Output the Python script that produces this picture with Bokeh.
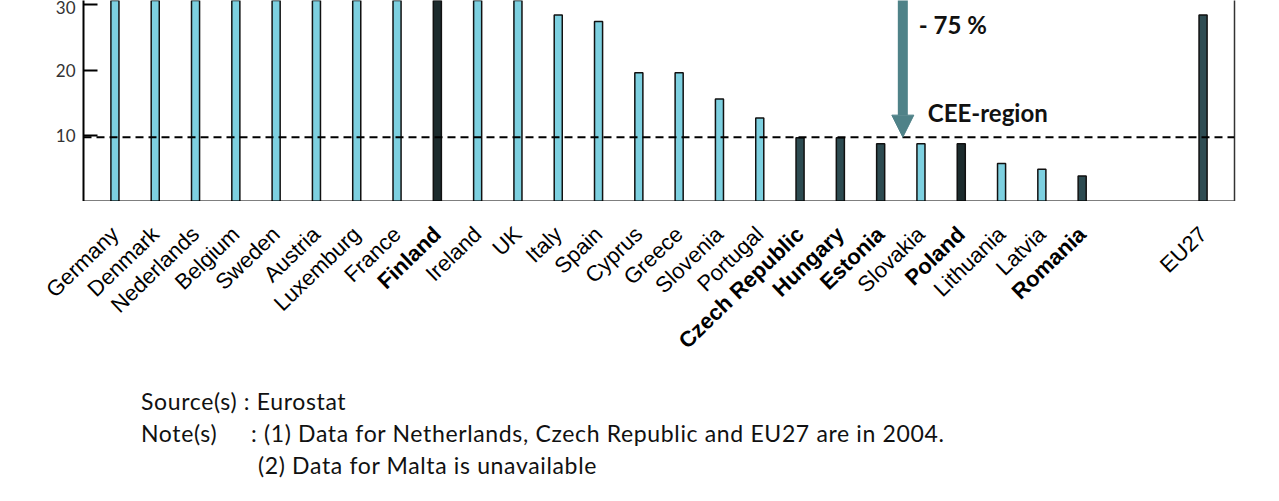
import numpy as np
from bokeh.plotting import figure
from bokeh.models import (ColumnDataSource, Range1d, FixedTicker, LinearAxis,
                          Span, Arrow, NormalHead, Label, Div)
from bokeh.layouts import column, row
from bokeh.transform import factor_cmap
from bokeh.core.properties import value
from bokeh.embed import file_html
from bokeh.resources import INLINE

# ---------------- data ----------------
countries = ["Germany", "Denmark", "Nederlands", "Belgium", "Sweden", "Austria",
             "Luxemburg", "France", "Finland", "Ireland", "UK", "Italy", "Spain",
             "Cyprus", "Greece", "Slovenia", "Portugal", "Czech Republic",
             "Hungary", "Estonia", "Slovakia", "Poland", "Lithuania", "Latvia",
             "Romania", "EU27"]
values = [58, 52, 48, 45, 43, 41, 39, 37, 35, 33, 32, 28.4, 27.4, 19.6, 19.6,
          15.6, 12.7, 9.7, 9.7, 8.8, 8.8, 8.8, 5.8, 4.9, 3.9, 28.4]
groups = ["other", "other", "other", "other", "other", "other", "other", "other",
          "home", "other", "other", "other", "other", "other", "other", "other",
          "other", "focus", "focus", "focus", "other", "home", "other", "other",
          "focus", "eu"]
cee_level = 9.8
y_ticks = [10, 20, 30]
reduction_text = "- 75 %"
region_text = "CEE-region"

group_names = ["other", "focus", "home", "eu"]
group_colors = ["#7dd0e0", "#2d4b51", "#1c2b2d", "#2f4d53"]

# category slots: EU27 is set apart by two empty slots
GAP = 2
slots = list(range(len(countries) - 1)) + [len(countries) - 1 + GAP]

styles = ["bold" if g in ("focus", "home") else "normal" for g in groups]
src = ColumnDataSource(dict(slot=slots, country=countries, value=values,
                            group=groups, style=styles))

# ---------------- layout constants ----------------
W = 1279
LEFT, RIGHT = 83, 45
PAD = 0.28
H1 = 201
H2 = 174

x0 = min(slots) - 0.5 - PAD
x1 = max(slots) + 0.5 + PAD
step = (W - LEFT - RIGHT) / (x1 - x0)

# ---------------- main chart ----------------
p = figure(width=W, height=H1, x_range=Range1d(x0, x1), y_range=Range1d(0, 30.6),
           output_backend="svg", toolbar_location=None, x_axis_location=None,
           min_border_left=LEFT, min_border_right=RIGHT, min_border_top=0,
           min_border_bottom=0, outline_line_color=None,
           background_fill_color="white", border_fill_color="white")
p.xgrid.grid_line_color = None
p.ygrid.grid_line_color = None

p.vbar(x="slot", top="value", width=0.2, source=src,
       fill_color=factor_cmap("group", group_colors, group_names),
       line_color="#111111", line_width=1.5)

p.add_layout(Span(location=cee_level, dimension="width", line_color="black",
                  line_width=2, line_dash="8 5"))

p.yaxis.ticker = FixedTicker(ticks=y_ticks)
p.yaxis.major_tick_in = 14
p.yaxis.major_tick_out = 0
p.yaxis.minor_tick_line_color = None
p.yaxis.axis_line_width = 2
p.yaxis.major_tick_line_width = 2
p.yaxis.major_label_standoff = 8
p.yaxis.major_label_text_font = "Lato"
p.yaxis.major_label_text_font_size = "17px"
p.yaxis.major_label_text_color = "#333333"

bottom = LinearAxis(ticker=FixedTicker(ticks=[]), axis_line_width=2,
                    axis_line_color="black", major_tick_line_color=None,
                    minor_tick_line_color=None)
p.add_layout(bottom, "below")

ra = LinearAxis(ticker=FixedTicker(ticks=[]), axis_line_width=1.5,
                axis_line_color="#333333", major_tick_line_color=None,
                minor_tick_line_color=None)
p.add_layout(ra, "right")

arrow_color = "#4f8288"
arrow_x = slots[countries.index("Estonia")] + 0.55
p.add_layout(Arrow(end=NormalHead(size=22, fill_color=arrow_color,
                                  line_color=arrow_color),
                   x_start=arrow_x, y_start=40, x_end=arrow_x, y_end=cee_level,
                   line_width=10, line_color=arrow_color))
p.add_layout(Label(x=arrow_x, y=cee_level, x_offset=16, y_offset=98,
                   text=reduction_text, text_font="Lato", text_font_style="bold",
                   text_font_size="24px", text_color="#111111"))
p.add_layout(Label(x=arrow_x, y=cee_level, x_offset=25, y_offset=10,
                   text=region_text, text_font="Lato", text_font_style="bold",
                   text_font_size="24px", text_color="#111111"))

# ---------------- category labels ----------------
# same slot spacing as the main chart, but the frame spans the full width
xr2 = Range1d(x0 - LEFT / step, x1 + RIGHT / step)
p2 = figure(width=W, height=H2, x_range=xr2, y_range=Range1d(-H2, 0),
            output_backend="svg", toolbar_location=None,
            x_axis_location=None, y_axis_location=None,
            min_border_left=0, min_border_right=0, min_border_top=0,
            min_border_bottom=0, outline_line_color=None,
            background_fill_color="white", border_fill_color="white")
p2.xgrid.grid_line_color = None
p2.ygrid.grid_line_color = None
p2.text(x="slot", y=-29, text="country", source=src, angle=np.deg2rad(44),
        text_align="right", text_baseline="middle",
        text_font=value("Liberation Sans"), text_font_size="22px",
        text_font_style="style", text_color="black")

# ---------------- notes ----------------
notes = Div(width=W, height=501 - H1 - H2, text=(
    '<div style="font-family: Lato, sans-serif; font-size:23px; line-height:32px;'
    ' letter-spacing:0.65px; color:#111; padding-left:136px; padding-top:5px;'
    ' white-space:nowrap;">'
    'Source(s) : Eurostat<br>'
    '<span style="display:inline-block; width:110px;">Note(s)</span>'
    ': (1) Data for Netherlands, Czech Republic and EU27 are in 2004.<br>'
    '<span style="display:inline-block; width:117px;"></span>'
    '(2) Data for Malta is unavailable'
    '</div>'))

layout = column(p, row(p2), notes, spacing=0)
open("out.html", "w").write(file_html(layout, INLINE))
